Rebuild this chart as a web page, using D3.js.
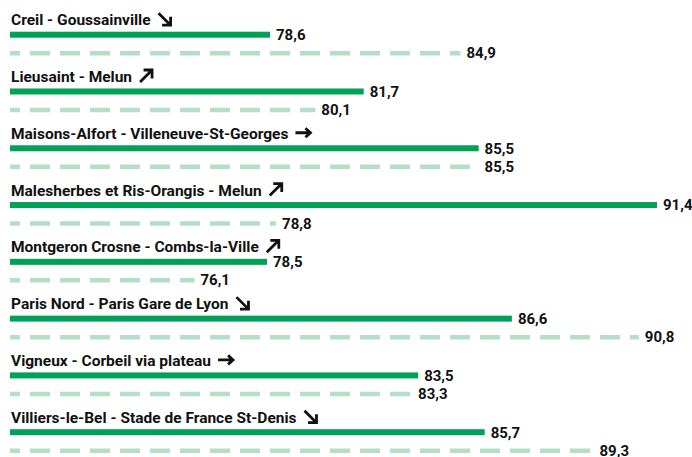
<!DOCTYPE html>
<meta charset="utf-8">
<head>
<style>
body { margin: 0; background: #fff; }
.title { font-family: Roboto, "Liberation Sans", Arial, sans-serif; font-weight: 700; font-size: 15.5px; fill: #111; }
.value { font-family: Roboto, "Liberation Sans", Arial, sans-serif; font-weight: 700; font-size: 15px; fill: #111; }
</style>
</head>
<body>
<div id="chart"></div>
<script src="https://d3js.org/d3.v7.min.js"></script>
<script>

// data
var routes = [
  "Creil - Goussainville",
  "Lieusaint - Melun",
  "Maisons-Alfort - Villeneuve-St-Georges",
  "Malesherbes et Ris-Orangis - Melun",
  "Montgeron Crosne - Combs-la-Ville",
  "Paris Nord - Paris Gare de Lyon",
  "Vigneux - Corbeil via plateau",
  "Villiers-le-Bel - Stade de France St-Denis"
];
var current = [78.6, 81.7, 85.5, 91.4, 78.5, 86.6, 83.5, 85.7];
var previous = [84.9, 80.1, 85.5, 78.8, 76.1, 90.8, 83.3, 89.3];
var trend = ["down", "up", "flat", "up", "up", "down", "flat", "down"];

var width = 692, height = 457;

var svg = d3.select("#chart")
  .append("svg")
    .attr("width", width)
    .attr("height", height);

// x scale: bars start at 70
var x = d3.scaleLinear()
  .domain([70, 91.4])
  .range([10, 657]);

// row position = centre of the solid bar
var y = d3.scalePoint()
  .domain(routes)
  .range([34.7, 432.2]);

var solidColor = "#00a057",
    dashColor = "#b4dfc5";

var rows = svg.selectAll(".row")
  .data(routes)
  .enter()
  .append("g")
    .attr("class", "row")
    .attr("transform", function(d) { return "translate(0," + y(d) + ")"; });

// titles
rows.append("text")
  .attr("class", "title")
  .attr("x", 11)
  .attr("y", -9.5)
  .text(function(d) { return d; });

// trend arrows after each title
rows.each(function(d, i) {
  var g = d3.select(this);
  var w = g.select(".title").node().getComputedTextLength();
  var ax = 11 + w + 7, ay = -15.5;
  var p;
  if (trend[i] == "down") {
    p = "M" + (ax + 1) + "," + (ay - 6) + " L" + (ax + 12) + "," + (ay + 5)
      + " M" + (ax + 13) + "," + (ay - 2.5) + " L" + (ax + 13) + "," + (ay + 6) + " L" + (ax + 4.5) + "," + (ay + 6);
  } else if (trend[i] == "up") {
    p = "M" + (ax + 1) + "," + (ay + 6) + " L" + (ax + 12) + "," + (ay - 5)
      + " M" + (ax + 4.5) + "," + (ay - 6) + " L" + (ax + 13) + "," + (ay - 6) + " L" + (ax + 13) + "," + (ay + 2.5);
  } else {
    p = "M" + ax + "," + ay + " L" + (ax + 15) + "," + ay
      + " M" + (ax + 10) + "," + (ay - 4.5) + " L" + (ax + 15) + "," + ay + " L" + (ax + 10) + "," + (ay + 4.5);
  }
  g.append("path")
    .attr("d", p)
    .attr("fill", "none")
    .attr("stroke", "#111")
    .attr("stroke-width", 2.8)
    .attr("stroke-linecap", "butt")
    .attr("stroke-linejoin", "miter");
});

// current year: solid bar
rows.append("rect")
  .attr("x", x(70))
  .attr("y", -3)
  .attr("height", 6)
  .attr("width", function(d, i) { return x(current[i]) - x(70); })
  .attr("fill", solidColor);

rows.append("text")
  .attr("class", "value")
  .attr("x", function(d, i) { return x(current[i]) + 6; })
  .attr("y", 0)
  .attr("dy", "0.36em")
  .text(function(d, i) { return d3.format(".1f")(current[i]).replace(".", ","); });

// previous year: dashed line
rows.append("line")
  .attr("x1", x(70))
  .attr("x2", function(d, i) { return x(previous[i]); })
  .attr("y1", 18.5)
  .attr("y2", 18.5)
  .attr("stroke", dashColor)
  .attr("stroke-width", 4.5)
  .attr("stroke-dasharray", "20,10")
  .attr("stroke-dashoffset", 10);

rows.append("text")
  .attr("class", "value")
  .attr("x", function(d, i) { return x(previous[i]) + 6; })
  .attr("y", 18.5)
  .attr("dy", "0.34em")
  .text(function(d, i) { return d3.format(".1f")(previous[i]).replace(".", ","); });

</script>
</body>
